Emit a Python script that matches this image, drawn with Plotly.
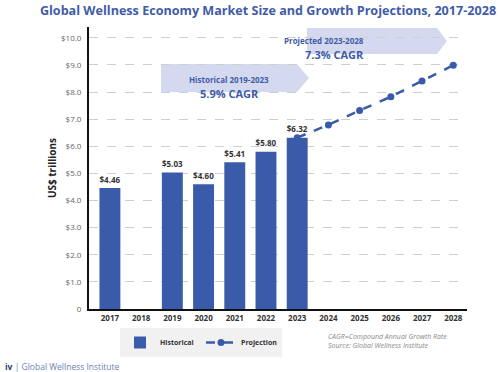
import plotly.graph_objects as go

years = ["2017", "2018", "2019", "2020", "2021", "2022", "2023",
         "2024", "2025", "2026", "2027", "2028"]
hist_years = ["2017", "2018", "2019", "2020", "2021", "2022", "2023"]
hist_values = [4.46, None, 5.03, 4.60, 5.41, 5.80, 6.32]
hist_labels = ["$4.46", "", "$5.03", "$4.60", "$5.41", "$5.80", "$6.32"]
proj_years = ["2023", "2024", "2025", "2026", "2027", "2028"]
proj_values = [6.32, 6.79, 7.32, 7.83, 8.41, 8.99]
y_ticks = [0, 1, 2, 3, 4, 5, 6, 7, 8, 9, 10]
y_tick_text = ["0", "$1.0", "$2.0", "$3.0", "$4.0", "$5.0", "$6.0",
               "$7.0", "$8.0", "$9.0", "$10.0"]

BLUE = "#3a5ba9"
TXT_BLUE = "#3f5ca8"
BOX = "#d5d9ef"
FONT = "Open Sans"

L, R, T, B = 89, 467, 27, 309


def px_x(p):
    return (p - L) / float(R - L)


def px_y(p):
    return (B - p) / float(B - T)


fig = go.Figure()
fig.add_trace(go.Bar(
    x=hist_years, y=hist_values, name="Historical",
    marker=dict(color=BLUE, line=dict(width=0)),
    width=0.67,
    text=hist_labels, textposition="outside",
    textfont=dict(family=FONT, size=10, color="#333333", weight="bold"),
    cliponaxis=False,
))
fig.add_trace(go.Scatter(
    x=proj_years, y=proj_values, name="Projection", mode="lines+markers",
    line=dict(color=BLUE, width=2.5, dash="dash"),
    marker=dict(color=BLUE, size=7, symbol="circle"),
    cliponaxis=False,
))

fig.add_annotation(x="2028", y=8.99, text="<b>$8.99</b>", showarrow=False,
                   yshift=13, font=dict(family=FONT, size=10, color="#333333"))


def arrow_box(x0, x1, tip, ytop, ybot):
    ym = (ytop + ybot) / 2
    path = (f"M {px_x(x0)} {px_y(ytop)} L {px_x(x1)} {px_y(ytop)} "
            f"L {px_x(tip)} {px_y(ym)} L {px_x(x1)} {px_y(ybot)} "
            f"L {px_x(x0)} {px_y(ybot)} Z")
    fig.add_shape(type="path", path=path, xref="paper", yref="paper",
                  fillcolor=BOX, line=dict(width=0), layer="below")


arrow_box(161, 297, 309, 64, 92)
arrow_box(307, 437, 447, 28, 54)


def txt(xp, yp, s, size):
    fig.add_annotation(x=px_x(xp), y=px_y(yp), xref="paper", yref="paper",
                       text=s, showarrow=False,
                       font=dict(family=FONT, size=size, color=TXT_BLUE))


txt(229, 72, "<b>Historical 2019-2023</b>", 8)
txt(229, 84, "<b>5.9% CAGR</b>", 11)
txt(366, 33, "<b>Projected 2023-2028</b>", 8)
txt(366, 45, "<b>7.3% CAGR</b>", 11)

fig.add_annotation(x=px_x(326), y=px_y(341), xref="paper", yref="paper",
                   xanchor="left", yanchor="middle", showarrow=False, align="left",
                   text="<i>CAGR=Compound Annual Growth Rate<br>Source: Global Wellness Institute</i>",
                   font=dict(family=FONT, size=7, color="#8a8a8a"))

fig.add_annotation(x=px_x(3), y=px_y(366), xref="paper", yref="paper",
                   xanchor="left", yanchor="middle", showarrow=False,
                   text="<b><span style='color:#2c3e73'>iv</span></b> <span style='color:#6d7fb0'>| Global Wellness Institute</span>",
                   font=dict(family=FONT, size=8.5))

fig.update_layout(
    width=500, height=372,
    margin=dict(l=L, r=500 - R, t=T, b=372 - B, autoexpand=False),
    paper_bgcolor="white", plot_bgcolor="white",
    font=dict(family=FONT),
    title=dict(text="<b>Global Wellness Economy Market Size and Growth Projections, 2017-2028</b>",
               x=268 / 500, xanchor="center", y=1 - 11 / 372, yanchor="middle",
               font=dict(family=FONT, size=12.6, color=TXT_BLUE)),
    showlegend=True,
    legend=dict(orientation="h", x=px_x(120), y=px_y(328), xanchor="left", yanchor="top",
                bgcolor="#f1f1f1", font=dict(family=FONT, size=7, color="#333333", weight="bold"),
                itemwidth=30, entrywidth=36, tracegroupgap=0),
    xaxis=dict(type="category", categoryorder="array", categoryarray=years,
               range=[-0.67, 11.44], showgrid=False, showline=True, automargin=False,
               linecolor="#111111", linewidth=2, ticks="",
               tickfont=dict(family=FONT, size=8, color="#333333", weight="bold")),
    yaxis=dict(range=[0, 10.4], tickvals=y_ticks, ticktext=y_tick_text, automargin=False,
               showgrid=True, gridcolor="#cfcfcf", griddash="dash", gridwidth=1,
               showline=True, linecolor="#111111", linewidth=2, zeroline=False,
               ticks="", ticklabelstandoff=4,
               tickfont=dict(family=FONT, size=8, color="#666666"),
               title=dict(text="<b>US$ trillions</b>", standoff=2,
                          font=dict(family=FONT, size=10, color="#222222"))),
)

fig.write_html("out.html", config={"displayModeBar": False},
               post_script="document.body.style.margin='0';")
